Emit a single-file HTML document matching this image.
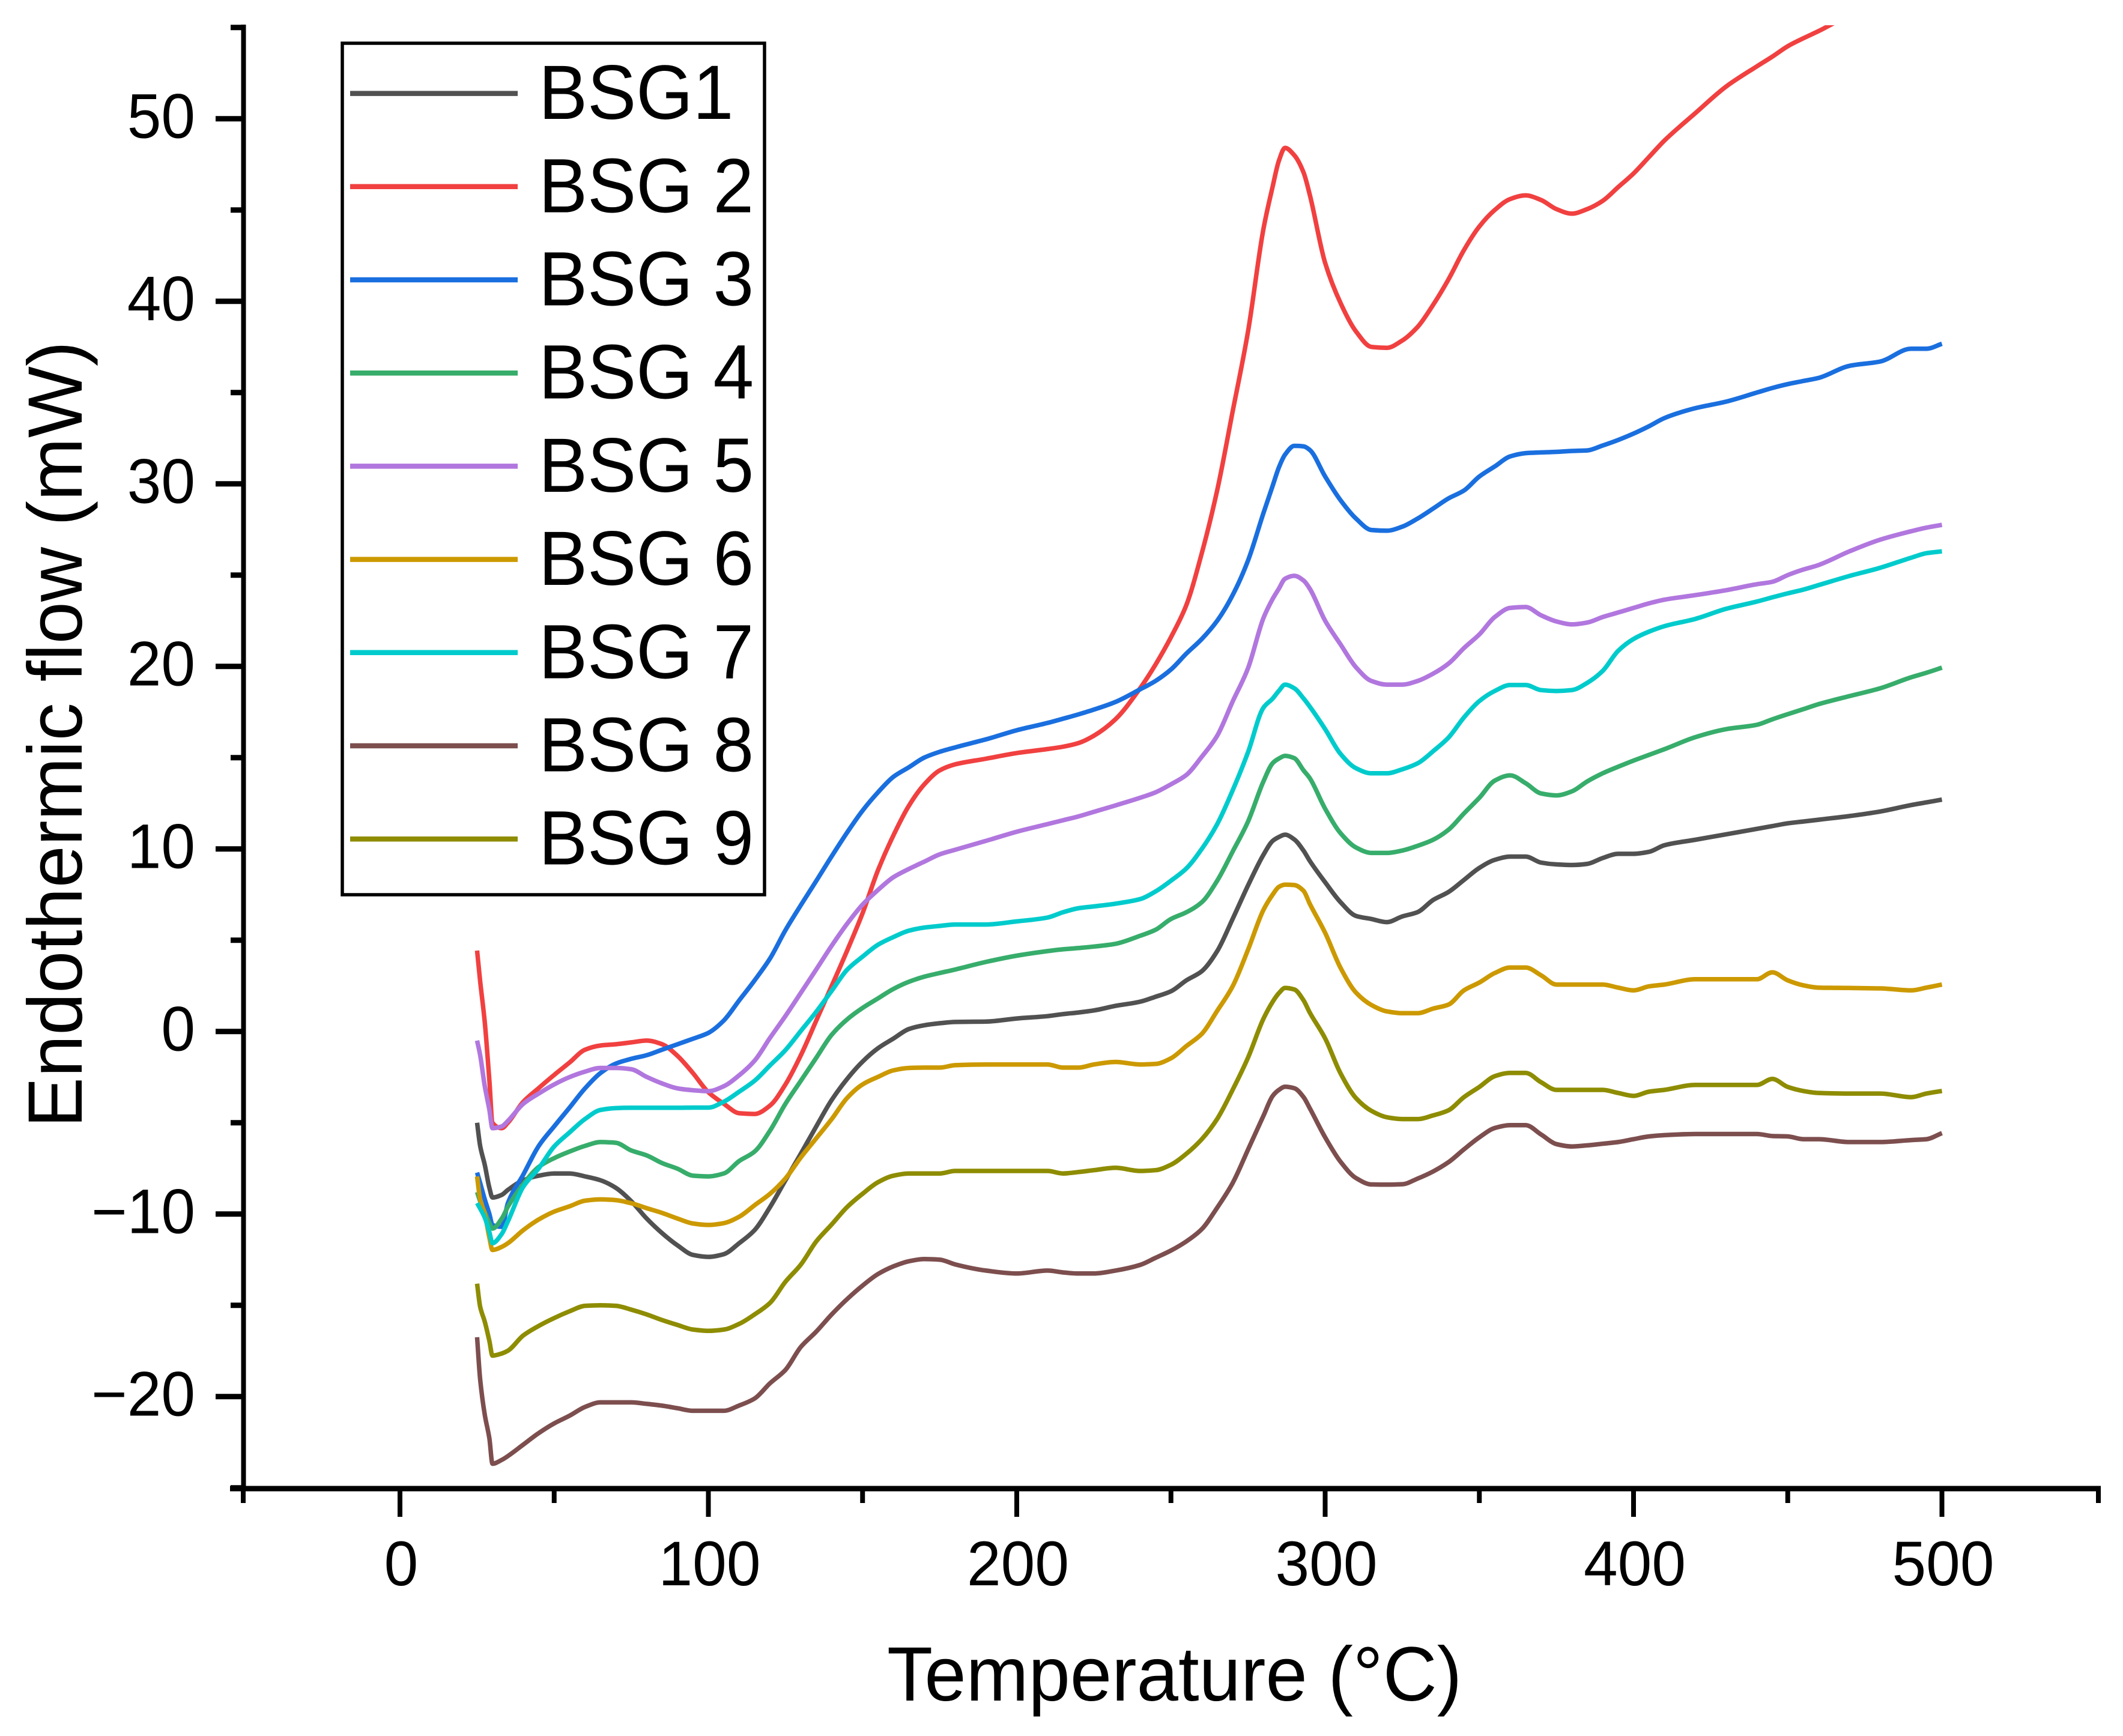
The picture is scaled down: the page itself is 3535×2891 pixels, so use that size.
<!DOCTYPE html>
<html lang="en">
<head>
<meta charset="utf-8">
<title>Endothermic flow vs temperature</title>
<style>
html,body{margin:0;padding:0;background:#fff;}
svg{display:block;}
text{font-family:"Liberation Sans",Arial,sans-serif;fill:#000;}
</style>
</head>
<body>
<svg id="chart" xmlns="http://www.w3.org/2000/svg" width="3535" height="2891" viewBox="0 0 3535 2891">
  <rect x="0" y="0" width="3535" height="2891" fill="#ffffff"/>
  <defs>
    <clipPath id="plot-clip"><rect x="405" y="42" width="3092" height="2437"/></clipPath>
  </defs>
  <g id="series-layer" clip-path="url(#plot-clip)"></g>
  <g id="axes-layer"></g>
  <g id="legend-layer"></g>
</svg>
<script>
const temperatures = [
25,26,27.5,29,30,33,35,40,45,50,
55,60,65,70,75,80,85,90,95,100,
105,110,115,120,125,130,135,140,145,150,
155,160,165,170,175,180,190,200,210,215,
220,225,232,240,245,250,255,260,265,270,
275,280,283,285,287,290,293,295,300,305,
310,315,320,325,330,335,340,345,350,355,
360,365,370,375,380,385,390,395,400,405,
410,420,430,440,445,450,455,460,470,480,
490,495,500];

const bsg1Flow = [
-5,-6.27,-7.31,-8.57,-9.1,-8.95,-8.68,-8.15,-7.9,-7.78,
-7.78,-7.94,-8.15,-8.57,-9.3,-10.25,-11.05,-11.72,-12.24,-12.35,
-12.2,-11.6,-10.88,-9.62,-8.15,-6.69,-5.2,-3.75,-2.6,-1.65,
-0.92,-0.39,0.13,0.34,0.45,0.52,0.54,0.71,0.84,0.95,
1.04,1.15,1.4,1.63,1.9,2.2,2.8,3.3,4.4,6.16,
8,9.68,10.44,10.65,10.78,10.52,9.9,9.35,8.17,7.08,
6.33,6.16,5.99,6.3,6.54,7.2,7.64,8.3,8.96,9.4,
9.58,9.58,9.25,9.15,9.12,9.18,9.5,9.73,9.73,9.84,
10.2,10.5,10.8,11.1,11.25,11.4,11.5,11.6,11.8,12.05,
12.4,12.55,12.7];

const bsg2Flow = [
4.43,2.75,0.5,-2.7,-5,-5.3,-5,-3.85,-3.1,-2.38,
-1.7,-1,-0.77,-0.7,-0.6,-0.5,-0.7,-1.34,-2.28,-3.33,
-3.96,-4.48,-4.52,-4.06,-2.9,-1.3,0.6,2.5,4.43,6.48,
8.83,10.74,12.36,13.53,14.3,14.63,14.94,15.25,15.47,15.6,
15.8,16.2,17.1,18.8,20.1,21.6,23.36,26.2,29.65,33.95,
38.35,43.97,46.3,47.7,48.4,48,47.05,45.85,42.1,39.9,
38.35,37.5,37.45,37.85,38.6,39.8,41.2,42.8,44.1,45,
45.6,45.8,45.55,45.05,44.8,45.05,45.5,46.25,47,47.9,
48.8,50.3,51.76,52.87,53.4,53.97,54.4,54.8,55.7,56.6,
57.4,57.8,58.2];

const bsg3Flow = [
-7.73,-8.3,-9.2,-10,-10.6,-10.7,-9.4,-7.84,-6.27,-5.2,
-4.17,-3.12,-2.28,-1.76,-1.5,-1.3,-1,-0.7,-0.4,-0.08,
0.6,1.7,2.8,4,5.55,6.92,8.25,9.6,10.9,12.1,
13.1,13.95,14.47,15,15.32,15.56,16,16.5,16.9,17.13,
17.37,17.63,18.05,18.74,19.2,19.83,20.7,21.5,22.5,23.9,
25.8,28.4,29.9,30.9,31.6,32.08,32.05,31.86,30.4,29.1,
28.1,27.47,27.43,27.65,28.1,28.64,29.2,29.63,30.4,30.95,
31.5,31.68,31.72,31.75,31.8,31.83,32.1,32.4,32.75,33.15,
33.6,34.14,34.5,35,35.25,35.46,35.63,35.8,36.46,36.7,
37.4,37.4,37.67];

const bsg4Flow = [
-8.8,-9.3,-9.9,-10.5,-10.8,-10.25,-9.6,-8.36,-7.42,-6.94,
-6.58,-6.27,-6.06,-6.1,-6.52,-6.79,-7.21,-7.52,-7.9,-7.94,
-7.78,-7.1,-6.58,-5.43,-3.96,-2.7,-1.44,-0.18,0.66,1.29,
1.81,2.33,2.72,3,3.2,3.39,3.81,4.15,4.4,4.5,
4.57,4.65,4.8,5.24,5.57,6.16,6.53,7.08,8.26,9.85,
11.5,13.7,14.7,14.95,15.1,14.97,14.3,13.88,12.2,10.86,
10.08,9.78,9.78,9.91,10.17,10.5,11.05,11.94,12.8,13.74,
14.03,13.6,13.04,12.93,13.15,13.7,14.14,14.5,14.84,15.15,
15.46,16.12,16.56,16.8,17.1,17.38,17.65,17.93,18.37,18.8,
19.4,19.65,19.93];

const bsg5Flow = [
-0.5,-1.3,-3,-4.3,-5.3,-5.2,-4.9,-3.96,-3.4,-2.9,
-2.5,-2.2,-2,-2,-2.07,-2.49,-2.85,-3.12,-3.22,-3.27,
-3,-2.4,-1.6,-0.35,0.85,2.12,3.4,4.7,5.9,6.95,
7.75,8.45,8.9,9.3,9.7,9.95,10.44,10.94,11.36,11.57,
11.78,12.03,12.38,12.8,13.1,13.54,14.05,15.05,16.2,18.07,
19.9,22.65,23.7,24.26,24.8,24.96,24.7,24.26,22.5,21.2,
19.95,19.2,19,19,19.2,19.6,20.15,21,21.75,22.7,
23.2,23.25,22.8,22.46,22.3,22.4,22.7,22.95,23.2,23.45,
23.65,23.9,24.17,24.5,24.63,25,25.3,25.55,26.3,26.94,
27.4,27.6,27.75];

const bsg6Flow = [
-7.94,-9.2,-10,-11.3,-11.97,-11.8,-11.6,-10.88,-10.3,-9.87,
-9.58,-9.27,-9.2,-9.24,-9.41,-9.68,-9.94,-10.25,-10.52,-10.6,
-10.5,-10.15,-9.52,-8.89,-8.05,-6.9,-5.85,-4.8,-3.64,-2.9,
-2.49,-2.13,-2,-1.98,-1.98,-1.85,-1.81,-1.81,-1.81,-1.98,
-1.98,-1.81,-1.67,-1.81,-1.78,-1.47,-0.8,-0.13,1.13,2.47,
4.48,6.66,7.5,7.92,8.04,8.02,7.7,7,5.4,3.48,
2.13,1.45,1.1,1,1,1.25,1.47,2.25,2.68,3.2,
3.5,3.5,3.08,2.57,2.57,2.57,2.57,2.4,2.25,2.47,
2.57,2.86,2.86,2.86,3.24,2.8,2.53,2.4,2.38,2.36,
2.25,2.4,2.57];

const bsg7Flow = [
-9.4,-9.7,-10.2,-11,-11.6,-11.09,-10.4,-8.5,-7.5,-6.3,
-5.53,-4.8,-4.3,-4.2,-4.18,-4.18,-4.18,-4.18,-4.17,-4.17,
-3.85,-3.3,-2.7,-1.86,-1.02,0.03,1.08,2.23,3.38,4.1,
4.75,5.17,5.52,5.69,5.78,5.86,5.86,6.03,6.24,6.53,
6.75,6.85,7,7.25,7.67,8.26,8.93,10,11.36,13.2,
15.3,17.74,18.24,18.66,19,18.8,18.24,17.8,16.56,15.2,
14.42,14.14,14.14,14.36,14.69,15.35,16.1,17.2,18.1,18.65,
18.98,18.98,18.7,18.65,18.7,19.1,19.75,20.85,21.5,21.9,
22.2,22.6,23.15,23.55,23.78,24,24.2,24.45,24.95,25.4,
25.95,26.2,26.3];

const bsg8Flow = [
-16.75,-19.06,-21,-22.3,-23.68,-23.47,-23.26,-22.63,-22,-21.47,
-21.05,-20.57,-20.32,-20.32,-20.32,-20.4,-20.5,-20.64,-20.78,-20.78,
-20.78,-20.49,-20.11,-19.27,-18.54,-17.28,-16.44,-15.5,-14.66,-13.92,
-13.29,-12.87,-12.59,-12.47,-12.5,-12.76,-13.1,-13.26,-13.1,-13.2,
-13.26,-13.26,-13.1,-12.79,-12.4,-12,-11.5,-10.83,-9.65,-8.31,
-6.47,-4.62,-3.53,-3.2,-3.03,-3.11,-3.6,-4.2,-5.8,-7.14,
-8.03,-8.38,-8.39,-8.37,-8.06,-7.67,-7.16,-6.46,-5.8,-5.29,
-5.13,-5.13,-5.64,-6.17,-6.3,-6.24,-6.15,-6.06,-5.9,-5.75,
-5.68,-5.62,-5.62,-5.62,-5.73,-5.75,-5.9,-5.9,-6.06,-6.06,
-5.95,-5.9,-5.57];

const bsg9Flow = [
-13.82,-15.08,-15.9,-16.96,-17.76,-17.64,-17.49,-16.65,-16.13,-15.7,
-15.33,-15.03,-15,-15.03,-15.24,-15.5,-15.81,-16.08,-16.33,-16.4,
-16.33,-16.02,-15.5,-14.87,-13.71,-12.77,-11.5,-10.57,-9.62,-8.89,
-8.26,-7.9,-7.78,-7.78,-7.78,-7.64,-7.64,-7.64,-7.64,-7.78,
-7.7,-7.6,-7.47,-7.64,-7.6,-7.3,-6.7,-5.9,-4.79,-3.2,
-1.43,0.7,1.63,2.1,2.38,2.3,1.7,1.04,-0.38,-2.3,
-3.65,-4.35,-4.7,-4.8,-4.8,-4.6,-4.32,-3.6,-3.04,-2.45,
-2.27,-2.27,-2.78,-3.2,-3.2,-3.2,-3.2,-3.37,-3.53,-3.3,
-3.2,-2.93,-2.93,-2.93,-2.6,-3.04,-3.26,-3.37,-3.4,-3.4,
-3.6,-3.4,-3.26];

const seriesNames = ["BSG1","BSG 2","BSG 3","BSG 4","BSG 5","BSG 6","BSG 7","BSG 8","BSG 9"];
const seriesFlows = [bsg1Flow,bsg2Flow,bsg3Flow,bsg4Flow,bsg5Flow,bsg6Flow,bsg7Flow,bsg8Flow,bsg9Flow];
const seriesColors = ["#515151","#F14040","#1A6FDF","#37AD6B","#B177DE","#CC9900","#00CBCC","#7D4E4E","#8E8C00"];
const xMajorTicks = [0,100,200,300,400,500];
const xMinorTicks = [-50,50,150,250,350,450,550];
const yMajorTicks = [-20,-10,0,10,20,30,40,50];
const yMinorTicks = [-25,-15,-5,5,15,25,35,45,55];

const SVG_NS = "http://www.w3.org/2000/svg";
function xPos(t){
  if(t === -50) return 405;
  if(t === 550) return 3494;
  return 666 + 5.135 * t;
}
function yPos(v){ return 197.7 + (50 - v) * 30.4; }
function fmt(n){ return n < 0 ? "\u2212" + Math.abs(n) : String(n); }
function make(parent, tag, attrs, txt){
  const el = document.createElementNS(SVG_NS, tag);
  for(const k in attrs){ el.setAttribute(k, attrs[k]); }
  if(txt !== undefined){ el.textContent = txt; }
  parent.appendChild(el);
  return el;
}
/* monotone cubic path through the mapped data points: smooth, with no overshoot */
function smoothPath(xs, ys){
  const n = xs.length;
  const slopes = [];
  for(let i = 0; i < n - 1; i++){ slopes.push((ys[i + 1] - ys[i]) / (xs[i + 1] - xs[i])); }
  const tan = [slopes[0]];
  for(let i = 1; i < n - 1; i++){
    if(slopes[i - 1] * slopes[i] <= 0){ tan.push(0); }
    else {
      const h0 = xs[i] - xs[i - 1], h1 = xs[i + 1] - xs[i];
      const w1 = 2 * h1 + h0, w2 = h1 + 2 * h0;
      tan.push((w1 + w2) / (w1 / slopes[i - 1] + w2 / slopes[i]));
    }
  }
  tan.push(slopes[n - 2]);
  let d = "M" + xs[0].toFixed(1) + " " + ys[0].toFixed(1);
  for(let i = 0; i < n - 1; i++){
    const h = (xs[i + 1] - xs[i]) / 3;
    d += "C" + (xs[i] + h).toFixed(1) + " " + (ys[i] + tan[i] * h).toFixed(1) + " " +
         (xs[i + 1] - h).toFixed(1) + " " + (ys[i + 1] - tan[i + 1] * h).toFixed(1) + " " +
         xs[i + 1].toFixed(1) + " " + ys[i + 1].toFixed(1);
  }
  return d;
}

const seriesLayer = document.getElementById("series-layer");
const axesLayer = document.getElementById("axes-layer");
const legendLayer = document.getElementById("legend-layer");

/* series */
seriesFlows.forEach(function(flow, i){
  const xs = flow.map(function(v, j){ return xPos(temperatures[j]); });
  const ys = flow.map(function(v){ return yPos(v); });
  const line = make(seriesLayer, "path", {d: smoothPath(xs, ys), fill: "none", stroke: seriesColors[i], "stroke-width": 7.5, "stroke-linejoin": "round", "stroke-linecap": "butt"});
  
  
});

/* axes */
const yAxisLine = make(axesLayer, "line", {x1: 405.5, y1: 41, x2: 405.5, y2: 2483, stroke: "#000", "stroke-width": 8});


const xAxisLine = make(axesLayer, "line", {x1: 383, y1: 2479, x2: 3498, y2: 2479, stroke: "#000", "stroke-width": 9});



xMajorTicks.forEach(function(t){
  const px = xPos(t);
  const tick = make(axesLayer, "line", {x1: px, y1: 2479, x2: px, y2: 2526, stroke: "#000", "stroke-width": 8});
  
  
  const label = make(axesLayer, "text", {x: 0, y: 0, "font-size": 105, "text-anchor": "middle", transform: "translate(" + (px + 2) + ",2640) scale(0.97,1)"}, fmt(t));
  
  
});
xMinorTicks.forEach(function(t){
  const px = xPos(t);
  const tick = make(axesLayer, "line", {x1: px, y1: 2479, x2: px, y2: 2503, stroke: "#000", "stroke-width": 8});
  
  
});
yMajorTicks.forEach(function(v){
  const py = yPos(v);
  const tick = make(axesLayer, "line", {x1: 359, y1: py, x2: 405, y2: py, stroke: "#000", "stroke-width": 9});
  
  
  const label = make(axesLayer, "text", {x: 0, y: 0, "font-size": 105, "text-anchor": "end", transform: "translate(325," + (py + 32) + ") scale(0.97,1)"}, fmt(v));
  
  
});
yMinorTicks.forEach(function(v){
  const py = yPos(v);
  const tick = make(axesLayer, "line", {x1: 384, y1: py, x2: 405, y2: py, stroke: "#000", "stroke-width": 9});
  
  
});

const xTitle = make(axesLayer, "text", {x: 0, y: 0, "font-size": 128, transform: "translate(1477,2832) scale(0.974,1)"}, "Temperature (\u00B0C)");


const yTitle = make(axesLayer, "text", {x: 0, y: 0, "font-size": 128, transform: "translate(136,1878) rotate(-90) scale(0.985,1)"}, "Endothermic flow (mW)");



/* legend */
const legendBox = make(legendLayer, "rect", {x: 570, y: 72, width: 703, height: 1418, fill: "#fff", stroke: "#000", "stroke-width": 5.5});


seriesNames.forEach(function(name, i){
  const rowY = 155.6 + 155.2 * i;
  const key = name.toLowerCase().replace(' ', '');
  const swatch = make(legendLayer, "line", {x1: 583, y1: rowY, x2: 862, y2: rowY, stroke: seriesColors[i], "stroke-width": 8.5});
  
  
  const label = make(legendLayer, "text", {x: 0, y: 0, "font-size": 128, transform: "translate(897," + (rowY + 42.5) + ") scale(0.95,1)"}, name);
  
  
});
</script>
</body>
</html>
